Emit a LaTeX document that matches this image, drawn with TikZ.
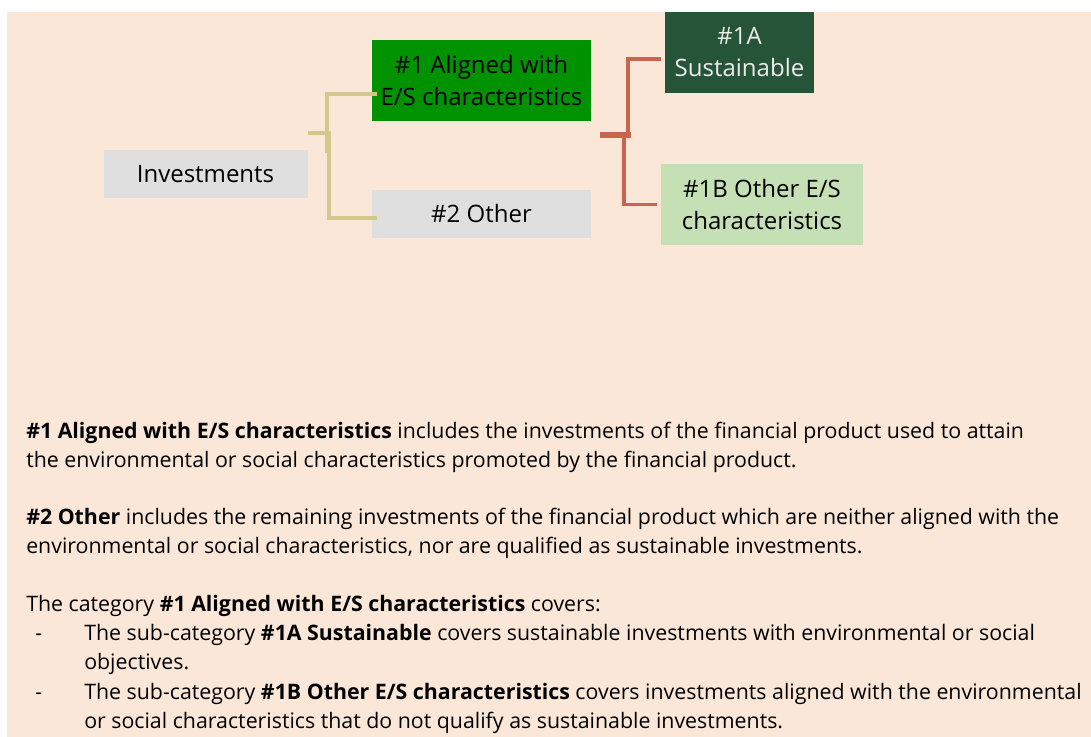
\documentclass[tikz,border=0pt]{standalone}
\usepackage{fontspec}
\setmainfont{Open Sans}
\usetikzlibrary{positioning}

\definecolor{peach}{HTML}{FAE7D7}
\definecolor{boxgray}{HTML}{DFDFDF}
\definecolor{aligngreen}{HTML}{009200}
\definecolor{susgreen}{HTML}{265439}
\definecolor{othgreen}{HTML}{C5E0B4}
\definecolor{tanline}{HTML}{D2C78C}
\definecolor{redline}{HTML}{C9654F}

\tikzset{
  catbox/.style={rectangle, inner sep=0pt, align=center,
    font=\fontsize{18}{24}\selectfont},
  bodytext/.style={inner sep=0pt, align=left, anchor=base west,
    font=\fontsize{16}{21.5}\selectfont},
  tanbranch/.style={draw=tanline, line width=3pt},
  redbranch/.style={draw=redline, line width=2.6pt}
}

\begin{document}
\begin{tikzpicture}[x=0.75pt,y=-0.75pt]
\useasboundingbox (0,0) rectangle (1091,737);
\fill[peach] (7,12) rectangle (1091,737);

% category boxes
\node[catbox, fill=boxgray, minimum width=153pt, minimum height=36pt] (inv) at (205.5,174) {Investments};
\node[catbox, fill=aligngreen, minimum width=164pt, minimum height=61pt] (al) at (481.5,80.5) {\#1 Aligned with\\E/S characteristics};
\node[catbox, fill=boxgray, minimum width=164pt, minimum height=36pt] (oth) at (481.5,214) {\#2 Other};
\node[catbox, fill=susgreen, text=white!92!black, minimum width=112pt, minimum height=61pt] (sus) at (739.5,52.5) {\#1A\\Sustainable};
\node[catbox, fill=othgreen, minimum width=151pt, minimum height=61pt] (ob) at (762,204.5) {\#1B Other E/S\\characteristics};

% branches
\coordinate (tj) at (328,133);
\coordinate (rj) at (628,135);
\draw[tanbranch] (inv.east |- tj) -- ([xshift=2]tj);
\draw[tanbranch] ([shift={(5,13.5)}]al.west) -| ([shift={(-1,20)}]tj);
\draw[tanbranch] ([shift={(1,-1)}]tj) |- ([shift={(5,4)}]oth.west);
\draw[redbranch, line width=4.5pt] ([xshift=7]al.east |- rj) -- ([xshift=2]rj);
\draw[redbranch] ([shift={(-4,6.5)}]sus.west) -| (rj);
\draw[redbranch] ([xshift=-3]rj) |- ([xshift=-3]ob.west);

% explanations (base = last line)
\node[bodytext] (p1) at (26,467) {\textbf{\#1 Aligned with E/S characteristics} includes the investments of the financial product used to attain\\the environmental or social characteristics promoted by the financial product.};
\node[bodytext] (p2) at (26,553) {\textbf{\#2 Other} includes the remaining investments of the financial product which are neither aligned with the\\environmental or social characteristics, nor are qualified as sustainable investments.};
\node[bodytext] (p3) at (26,611) {The category \textbf{\#1 Aligned with E/S characteristics} covers:};
\node[bodytext] (d1) at (35,640) {-};
\node[bodytext] (i1) at (84,669) {The sub-category \textbf{\#1A Sustainable} covers sustainable investments with environmental or social\\objectives.};
\node[bodytext] (d2) at (35,699) {-};
\node[bodytext] (i2) at (84,728) {The sub-category \textbf{\#1B Other E/S characteristics} covers investments aligned with the environmental\\or social characteristics that do not qualify as sustainable investments.};
\end{tikzpicture}
\end{document}
